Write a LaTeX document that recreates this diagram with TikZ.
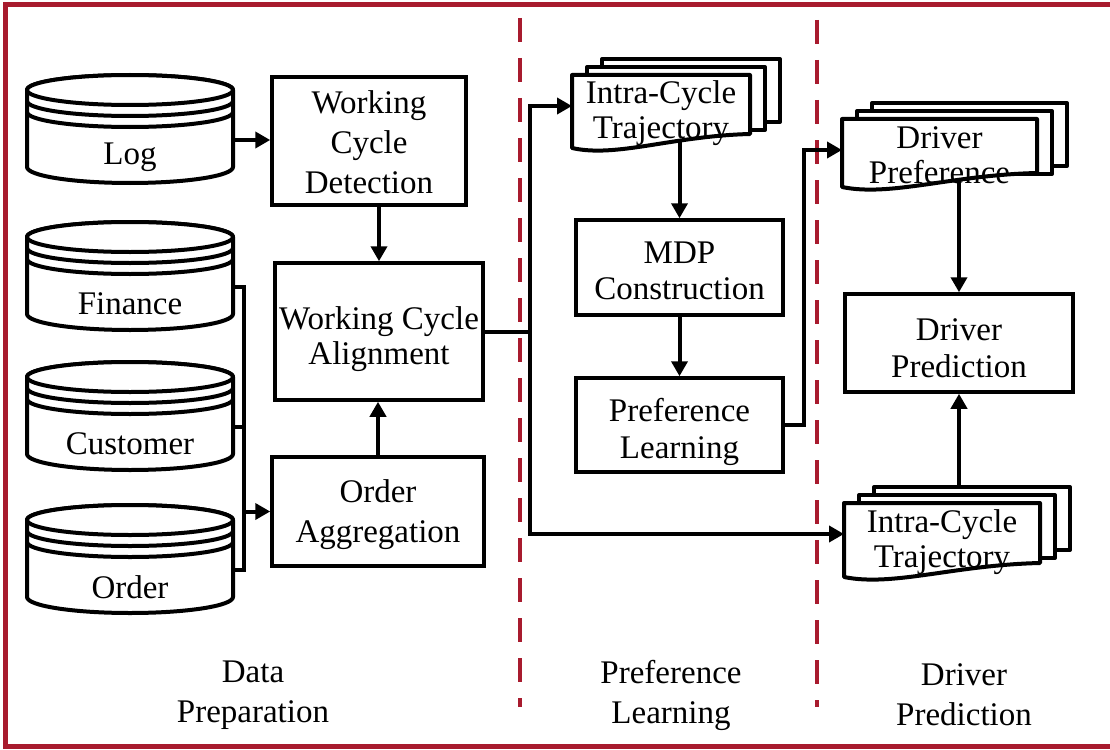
\documentclass[tikz,border=0pt]{standalone}
\usepackage{fontspec}
\setmainfont{Liberation Serif}
\usetikzlibrary{arrows.meta,backgrounds}
\definecolor{frameRed}{RGB}{168,27,46}

\tikzset{
  txt/.style={font=\fontsize{33}{#1}\selectfont, align=center, inner sep=0pt},
  txt/.default=37,
  proc/.style={draw, line width=3.5pt, fill=white, inner sep=0pt},
  conn/.style={line width=4pt, line join=miter},
  arr/.style={conn, -{Triangle[length=15pt,width=16pt]}},
  divider/.style={frameRed, line width=4pt, dash pattern=on 24pt off 16pt},
  shape line/.style={line width=4pt, fill=white, line join=round},
  % stacked disk store: origin at the top centre of the drum
  pics/database/.style={code={
    \draw[shape line] (-103,15) -- (-103,92)
      arc[start angle=180, end angle=0, x radius=103, y radius=16]
      -- (103,15) arc[start angle=0, end angle=-180, x radius=103, y radius=15] -- cycle;
    \draw[shape line] (0,15) ellipse[x radius=103, y radius=15];
    \draw[line width=4pt] (-103,26) arc[start angle=180, end angle=0, x radius=103, y radius=15];
    \draw[line width=4pt] (-103,37) arc[start angle=180, end angle=0, x radius=103, y radius=15];
    \node[inner sep=0pt, minimum width=206pt, minimum height=30pt] (-body) at (0,65) {};
    \node[txt] (-text) at (0,82) {#1};
  }},
  % pile of three pages: origin at the top left of the front page
  pics/docstack/.style n args={3}{code={
    \draw[shape line] (30,-16) rectangle ++(#1,63);
    \draw[shape line] (15,-8) rectangle ++(#1,63);
    \draw[shape line] (0,0) -- (0,#2)
      .. controls (0.25*#1,#2+10) and (0.56*#1,#2-12) .. (#1,#2-14) -- (#1,0) -- cycle;
    \node[txt=35] (-label) at (0.5*#1,0.5*#2+2) {#3};
    \coordinate (-west) at (0,31);
  }}
}

\begin{document}
\begin{tikzpicture}[x=1pt,y=-1pt]
\useasboundingbox (0,0) rectangle (1110,749);

% data sources
\pic (log) at (130,75)  {database=Log};
\pic (fin) at (130,222) {database=Finance};
\pic (cus) at (130,362) {database=Customer};
\pic (ord) at (130,505) {database=Order};

% processing steps
\node[proc, minimum width=194pt, minimum height=128pt] (det)   at (369,141)   {};
\node[proc, minimum width=208pt, minimum height=137pt] (align) at (379,331.5) {};
\node[proc, minimum width=212pt, minimum height=109pt] (agg)   at (378,511.5) {};
\node[proc, minimum width=207pt, minimum height=95pt]  (mdp)   at (679.5,267.5) {};
\node[proc, minimum width=207pt, minimum height=94pt]  (pl)    at (679.5,425) {};
\node[proc, minimum width=228pt, minimum height=98pt]  (pred)  at (959,343)   {};

% box captions, set a little below the box centres
\node[txt=40] (det-t)   at ([yshift=-1pt]det.center)   {Working\\Cycle\\Detection};
\node[txt=35] (align-t) at ([yshift=-8pt]align.center) {Working Cycle\\Alignment};
\node[txt=40] (agg-t)   at ([yshift=-3pt]agg.center)   {Order\\Aggregation};
\node[txt=36] (mdp-t)   at ([yshift=-3pt]mdp.center)   {MDP\\Construction};
\node[txt=37] (pl-t)    at ([yshift=-7pt]pl.center)    {Preference\\Learning};
\node[txt=37] (pred-t)  at ([yshift=-5pt]pred.center)  {Driver\\Prediction};

% intermediate artefacts
\pic (trajA) at (572,75)  {docstack={178}{73}{Intra-Cycle\\Trajectory}};
\pic (pref)  at (842,119) {docstack={195}{68}{Driver\\Preference}};
\pic (trajB) at (844,503) {docstack={196}{74}{Intra-Cycle\\Trajectory}};

% stage captions
\node[txt=40] (capData) at (253,695) {Data\\Preparation};
\node[txt=40] (capPref) at (671,695) {Preference\\Learning};
\node[txt=40] (capPred) at (964,695) {Driver\\Prediction};

\coordinate (bus) at (244,0);
\coordinate (split) at (530,0);

\begin{scope}[on background layer]
  % outer frame and stage separators
  \draw[frameRed, line width=4.5pt] (1110,4.5) -- (5.5,4.5) -- (5.5,746.5) -- (1110,746.5);
  \draw[divider] (520,18) -- (520,707);
  \draw[divider] (817,20) -- (817,707);

  % data preparation flow
  \draw[arr] (log-body.east) -- (log-body.east -| det.west);
  \draw[conn] (fin-body.east) -| (bus |- ord-body.east) -- (ord-body.east);
  \draw[conn] (cus-body.east) -- (cus-body.east -| bus);
  \draw[arr] (agg.west -| bus) -- (agg.west);
  \draw[arr] (det.south -| align.north) -- (align.north);
  \draw[arr] (agg.north) -- (agg.north |- align.south);

  % hand-over to learning and prediction
  \draw[arr] (align.east) -- (align.east -| split) |- (trajA-west);
  \draw[arr] (align.east -| split) |- (trajB-west);
  \draw[arr] (mdp.north |- trajA-label) -- (mdp.north);
  \draw[arr] (mdp.south) -- (pl.north);
  \draw[arr] (pl.east) -- ++(19,0) |- (pref-west);
  \draw[arr] (pred.north |- pref-label) -- (pred.north);
  \draw[arr] (pred.south |- trajB-label) -- (pred.south);
\end{scope}
\end{tikzpicture}
\end{document}
